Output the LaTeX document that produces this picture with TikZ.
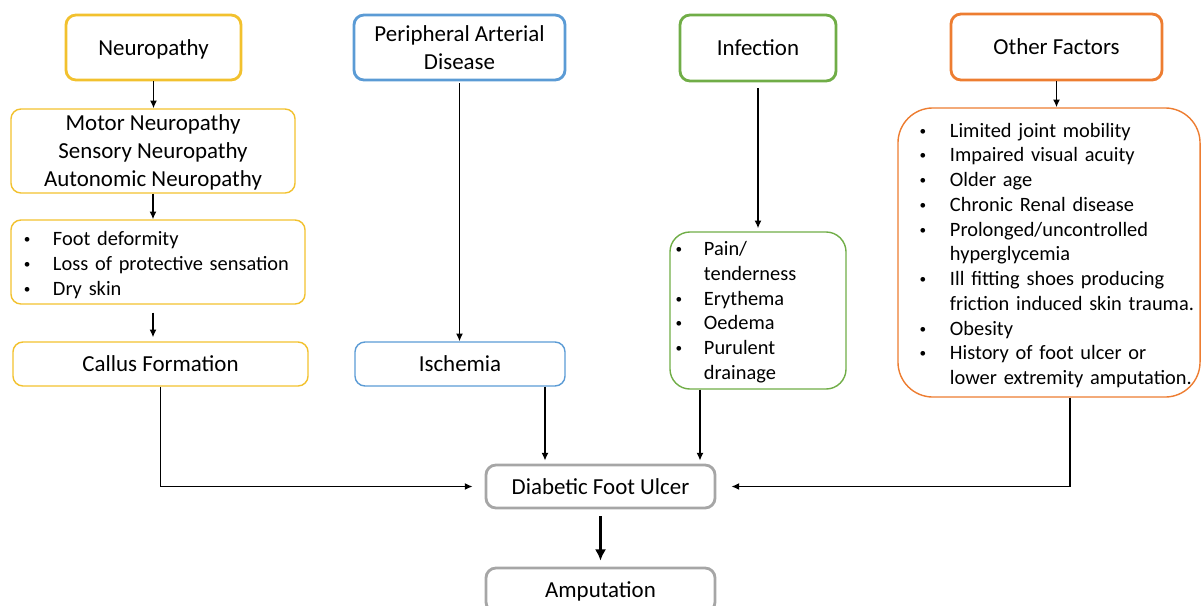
\documentclass[tikz,border=0pt]{standalone}
\usepackage{fontspec}
\setmainfont{Carlito}
\usepackage{array}
\usepackage{graphicx}
\usetikzlibrary{calc, arrows.meta}
\usetikzlibrary{positioning}
\definecolor{neuroyellow}{HTML}{F2C12E}
\definecolor{padblue}{HTML}{5B9BD5}
\definecolor{infgreen}{HTML}{70AD47}
\definecolor{otherorange}{HTML}{ED7D31}
\definecolor{ulcergray}{HTML}{A6A6A6}
\newcommand{\bdot}{\raisebox{0.1em}{\scalebox{0.65}{\textbullet}}}
\newcommand{\lowered}[2][1.5pt]{\raisebox{-#1}[\height][\depth]{#2}}
\newcommand{\boxlines}[1]{\lowered{\begin{tabular}{@{}c@{}}#1\end{tabular}}}

\begin{document}
\begin{tikzpicture}[x=0.025cm,y=-0.025cm,>={Latex[length=5.5pt,width=5pt]},
  headbox/.style={draw,rounded corners=0.25cm,line width=2pt,inner sep=0pt,font={\fontsize{16.3}{19.9}\selectfont}},
  plainbox/.style={headbox,line width=1pt},
  listbox/.style={draw,line width=1pt,inner ysep=0pt,align=left,font={\fontsize{14.5}{17.6}\selectfont}},
  link/.style={->,line width=1pt}]
  \useasboundingbox (0,0) rectangle (1203,605);
  % neuropathy column
  \node[headbox,neuroyellow,text=black,minimum width=4.375cm,minimum height=1.625cm] (neuro) at (153.5,47.5) {\boxlines{Neuropathy}};
  \node[plainbox,neuroyellow,text=black,minimum width=7.1cm,minimum height=2.1cm] (motor) at (153,151) {\boxlines{Motor Neuropathy\\Sensory Neuropathy\\Autonomic Neuropathy}};
  \node[listbox,neuroyellow,text=black,rounded corners=0.25cm,inner xsep=0.32cm,text width=6.71cm,minimum width=7.35cm,minimum height=2.1cm] (foot) at (158,262)
    {\lowered[2.5pt]{\begin{tabular}{@{}p{0.73cm}@{}l@{}}\bdot & Foot deformity\\ \bdot & Loss of protective sensation\\ \bdot & Dry skin\end{tabular}}};
  \node[plainbox,neuroyellow,text=black,minimum width=7.375cm,minimum height=1.1cm] (callus) at (160.5,364) {\boxlines{Callus Formation}};
  % arterial disease column
  \node[headbox,padblue,text=black,minimum width=5.275cm,minimum height=1.625cm] (pad) at (459.5,47.5) {\boxlines{Peripheral Arterial\\Disease}};
  \node[plainbox,padblue,text=black,minimum width=5.25cm,minimum height=1.1cm] (isch) at (460,364) {\boxlines{Ischemia}};
  % infection column
  \node[headbox,infgreen,text=black,minimum width=3.9cm,minimum height=1.65cm] (infect) at (758,48) {\boxlines{Infection}};
  \node[listbox,infgreen,text=black,rounded corners=0.5cm,inner xsep=0.14cm,text width=4.12cm,minimum width=4.4cm,minimum height=3.925cm] (inflist) at (758,310.5)
    {\lowered[1.5pt]{\begin{tabular}{@{}p{0.71cm}@{}l@{}}\bdot & Pain/\\ & tenderness\\ \bdot & Erythema\\ \bdot & Oedema\\ \bdot & Purulent\\ & drainage\end{tabular}}};
  % other factors column
  \node[headbox,otherorange,text=black,minimum width=5.275cm,minimum height=1.65cm] (other) at (1056.5,47) {\boxlines{Other Factors}};
  \node[listbox,otherorange,text=black,rounded corners=0.875cm,inner xsep=0.54cm,text width=6.47cm,minimum width=7.55cm,minimum height=7.225cm] (otherlist) at (1049,252.5)
    {\lowered[2.5pt]{\begin{tabular}{@{}p{0.76cm}@{}l@{}}\bdot & Limited joint mobility\\ \bdot & Impaired visual acuity\\ \bdot & Older age\\ \bdot & Chronic Renal disease\\
     \bdot & Prolonged/uncontrolled\\ & hyperglycemia\\ \bdot & Ill fitting shoes producing\\ & friction induced skin trauma.\\ \bdot & Obesity\\
     \bdot & History of foot ulcer or\\ & lower extremity amputation.\end{tabular}}};
  % outcome
  \node[headbox,ulcergray,text=black,minimum width=5.725cm,minimum height=1.075cm] (dfu) at (600.5,486.5) {\boxlines{Diabetic Foot Ulcer}};
  \node[headbox,ulcergray,text=black,minimum width=5.725cm,minimum height=1.1cm] (amp) at (600.5,590) {\boxlines{Amputation}};
  % connectors
  \draw[link] (neuro.south) -- (neuro.south |- motor.north);
  \draw[link] (motor.south) -- (motor.south |- foot.north);
  \draw[link,shorten <=0.2cm,shorten >=0.1cm] (motor.south |- foot.south) -- (motor.south |- callus.north);
  \draw[link,shorten <=0.05cm] (pad.south) -- (pad.south |- isch.north);
  \draw[link,shorten <=0.15cm,shorten >=0.075cm] (infect.south) -- (infect.south |- inflist.north);
  \draw[link] (other.south) -- (other.south |- otherlist.north);
  \coordinate (ischout) at ($(isch.south)+(85,0)$);
  \coordinate (infout) at ($(inflist.south)+(-58,0)$);
  \coordinate (otherout) at ($(otherlist.south)+(21,0)$);
  \draw[link,shorten >=0.3cm] (callus.south) |- (dfu.west);
  \draw[link,shorten >=0.075cm] (ischout) -- (ischout |- dfu.north);
  \draw[link,shorten >=0.075cm] (infout) -- (infout |- dfu.north);
  \draw[link,shorten >=0.375cm] (otherout) |- (dfu.east);
  \draw[->,>={Latex[length=8pt,width=8pt]},line width=2.2pt,shorten <=0.175cm,shorten >=0.15cm] (dfu.south) -- (amp.north);
\end{tikzpicture}
\end{document}
